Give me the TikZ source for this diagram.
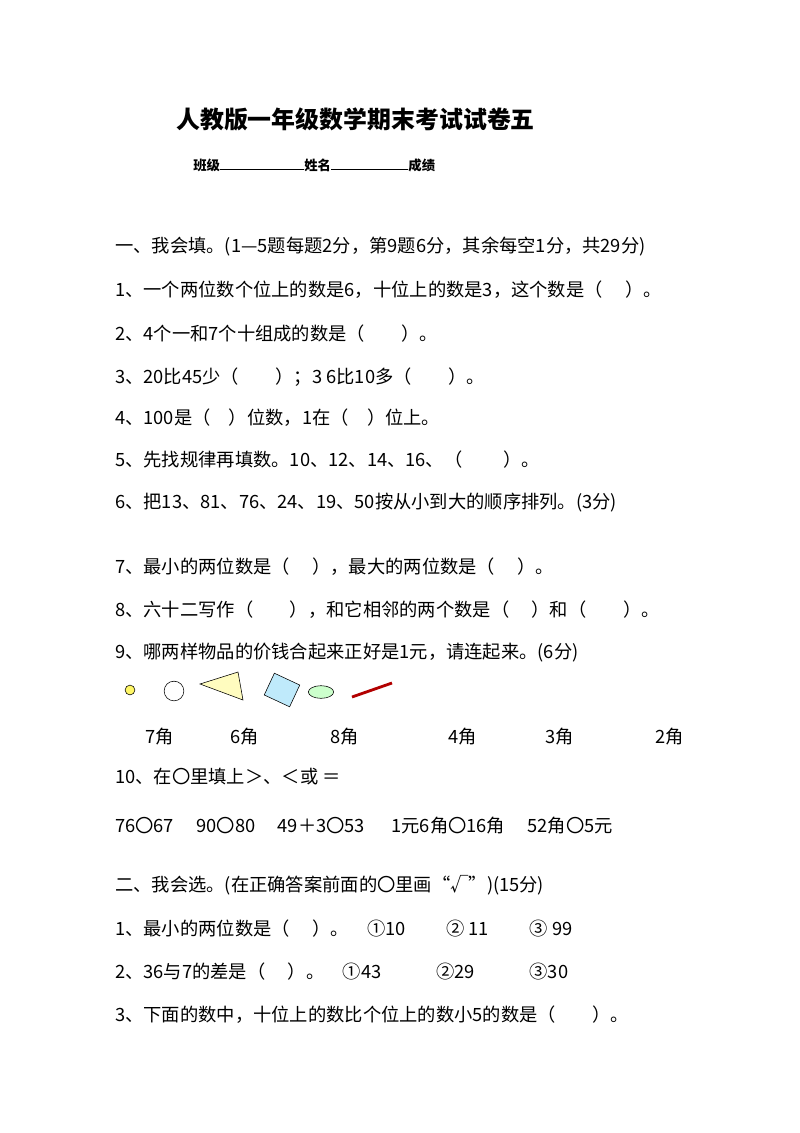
\documentclass[tikz,border=0pt]{standalone}
\usepackage{fontspec}
\setmainfont{Noto Sans CJK SC}
\usetikzlibrary{positioning,shapes.geometric}

\begin{document}
\begin{tikzpicture}[
    x=0.025cm,
    y=-0.025cm,
    line/.style={
        anchor=base west,
        inner sep=0pt,
        font=\fontsize{13}{15}\selectfont
    },
    title/.style={
        anchor=base west,
        inner sep=0pt,
        font=\fontsize{17}{20}\selectfont\bfseries
    },
    head/.style={
        anchor=base west,
        inner sep=0pt,
        font=\fontsize{9.5}{11}\selectfont\bfseries
    },
    price/.style={
        anchor=base,
        inner sep=0pt,
        font=\fontsize{13}{15}\selectfont
    },
    item/.style={
        draw,
        thin
    }
]

% Page
\useasboundingbox (0,0) rectangle (800,1133);

% Header
\node [title] (heading) at (176,128) {人教版一年级数学期末考试试卷五};
\node [head] (info) at (193,170) {班级\rule{60pt}{0.4pt}姓名\rule{55pt}{0.4pt}成绩};

% Part one
\node [line] (partA) at (115,252) {一、我会填。(1—5题每题2分，第9题6分，其余每空1分，共29分)};
\node [line] (a1) at (115,296) {1、一个两位数个位上的数是6，十位上的数是3，这个数是（\quad\ ）。};
\node [line] (a2) at (115,340) {2、4个一和7个十组成的数是（\qquad）。};
\node [line] (a3) at (115,383) {3、20比45少（\qquad）；3 6比10多（\qquad）。};
\node [line] (a4) at (115,424) {4、100是（\quad）位数，1在（\quad）位上。};
\node [line] (a5) at (115,466) {5、先找规律再填数。10、12、14、16、（\qquad\ ）。};
\node [line] (a6) at (115,508) {6、把13、81、76、24、19、50按从小到大的顺序排列。(3分)};
\node [line] (a7) at (115,573) {7、最小的两位数是（\quad\ ），最大的两位数是（\quad\ ）。};
\node [line] (a8) at (115,616) {8、六十二写作（\qquad），和它相邻的两个数是（\quad\ ）和（\qquad）。};
\node [line] (a9) at (115,658) {9、哪两样物品的价钱合起来正好是1元，请连起来。(6分)};

% Items
\node [item, circle, fill=yellow!60, minimum size=7pt, inner sep=0pt] (toy) at (130,690) {};
\node [item, circle, minimum size=14pt, inner sep=0pt] (ball) at (174,691) {};
\draw [item, fill=yellow!25] (200,684) -- (238,672) -- (243,700) -- cycle;
\draw [item, fill=cyan!25, rotate around={-25:(282,690)}] (268,678) rectangle (296,702);
\node [item, ellipse, fill=green!20, minimum width=18pt, minimum height=9pt, inner sep=0pt] (sharpener) at (321,692) {};
\draw [red!70!black, line width=2pt] (352,697) -- (392,683);

% Prices
\foreach \px/\pv [count=\i] in {145/7,230/6,330/8,448/4,545/3,655/2}
    \node [price] (p\i) at (\px+15,743) {\pv 角};

% Question ten
\node [line] (a10) at (115,783) {10、在〇里填上＞、＜或 ＝};
\node [line] (cmp) at (115,832) {76〇67\quad\ 90〇80\quad\ 49＋3〇53\quad\ \ 1元6角〇16角\quad\ 52角〇5元};

% Part two
\node [line] (partB) at (115,891) {二、我会选。(在正确答案前面的〇里画“√”)(15分)};
\node [line] (b1) at (115,935) {1、最小的两位数是（\quad\ ）。\quad ①10\qquad\ ② 11\qquad\ ③ 99};
\node [line] (b2) at (115,978) {2、36与7的差是（\quad\ ）。\quad ①43\qquad\quad ②29\qquad\quad ③30};
\node [line] (b3) at (115,1021) {3、下面的数中，十位上的数比个位上的数小5的数是（\qquad）。};

\end{tikzpicture}
\end{document}
